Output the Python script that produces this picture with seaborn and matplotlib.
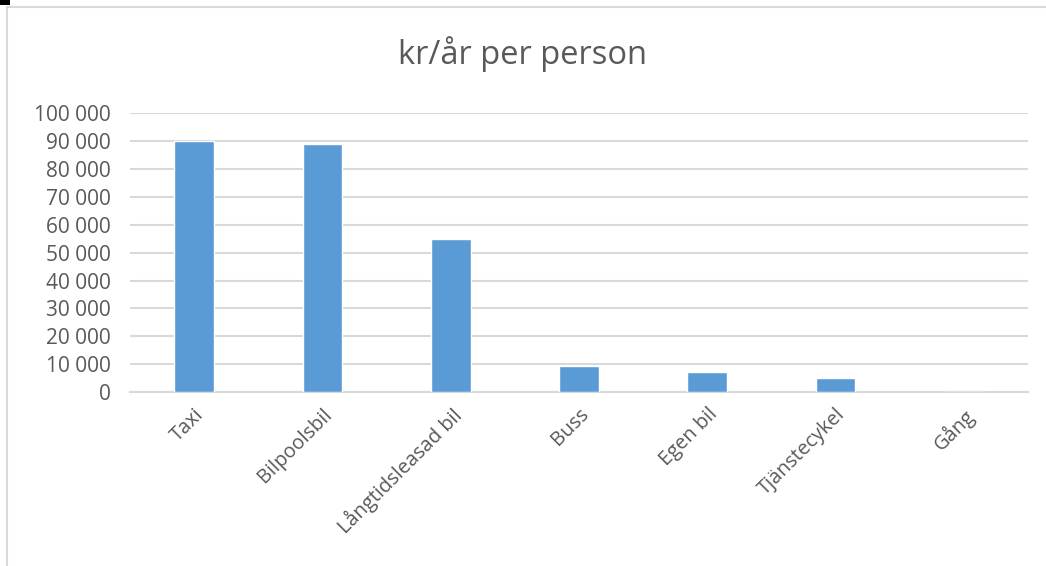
import matplotlib
matplotlib.use("Agg")
import matplotlib.pyplot as plt
import matplotlib.ticker as mticker
from matplotlib.patches import Rectangle
import seaborn as sns
import pandas as pd

categories = ["Taxi", "Bilpoolsbil", "Långtidsleasad bil", "Buss", "Egen bil", "Tjänstecykel", "Gång"]
values = [90000, 89000, 54800, 9400, 7000, 4900, 0]
yticks = [0, 10000, 20000, 30000, 40000, 50000, 60000, 70000, 80000, 90000, 100000]
title = "kr/år per person"

sns.set_theme(style="white")
plt.rcParams['font.family'] = ['Open Sans', 'DejaVu Sans']

df = pd.DataFrame({"cat": categories, "val": values})

fig = plt.figure(figsize=(10.46, 5.66), dpi=100)
ax = fig.add_axes([130/1046, 1-392/566, (1028-130)/1046, (392-113.3)/566])

sns.barplot(data=df, x="cat", y="val", color="#5b9bd5", saturation=1, width=0.31, ax=ax, zorder=3)

ax.set_ylim(0, 100000)
ax.set_yticks(yticks)
ax.yaxis.set_major_formatter(mticker.FuncFormatter(lambda v, p: f"{int(v):,}".replace(",", " ")))
ax.grid(axis="y", color="#d9d9d9", linewidth=1.5, zorder=0)
ax.set_axisbelow(True)
for s in ["top", "right", "left"]:
    ax.spines[s].set_visible(False)
ax.spines["bottom"].set_color("#d9d9d9")
ax.spines["bottom"].set_linewidth(1.5)
ax.set_xlabel("")
ax.set_ylabel("")
ax.tick_params(axis="y", length=0, pad=14, labelsize=15, labelcolor="#595959")
ax.tick_params(axis="x", length=0, pad=9, labelsize=14.4, labelcolor="#595959")
for lab in ax.get_xticklabels():
    lab.set_rotation(45)
    lab.set_ha("right")
    lab.set_rotation_mode("anchor")

fig.text(0.5, 1-54/566, title, ha="center", va="center", fontsize=23.5, color="#595959")

# chart border
fig.patches.append(Rectangle((7/1046, -0.1), 1.2, 1-7/566+0.1, transform=fig.transFigure,
                             fill=False, edgecolor="#d9d9d9", linewidth=1.5))
fig.patches.append(Rectangle((0, 1-5/566), 10/1046, 5/566, transform=fig.transFigure,
                             facecolor="black", edgecolor="none"))

fig.savefig("out.png", dpi=100)
